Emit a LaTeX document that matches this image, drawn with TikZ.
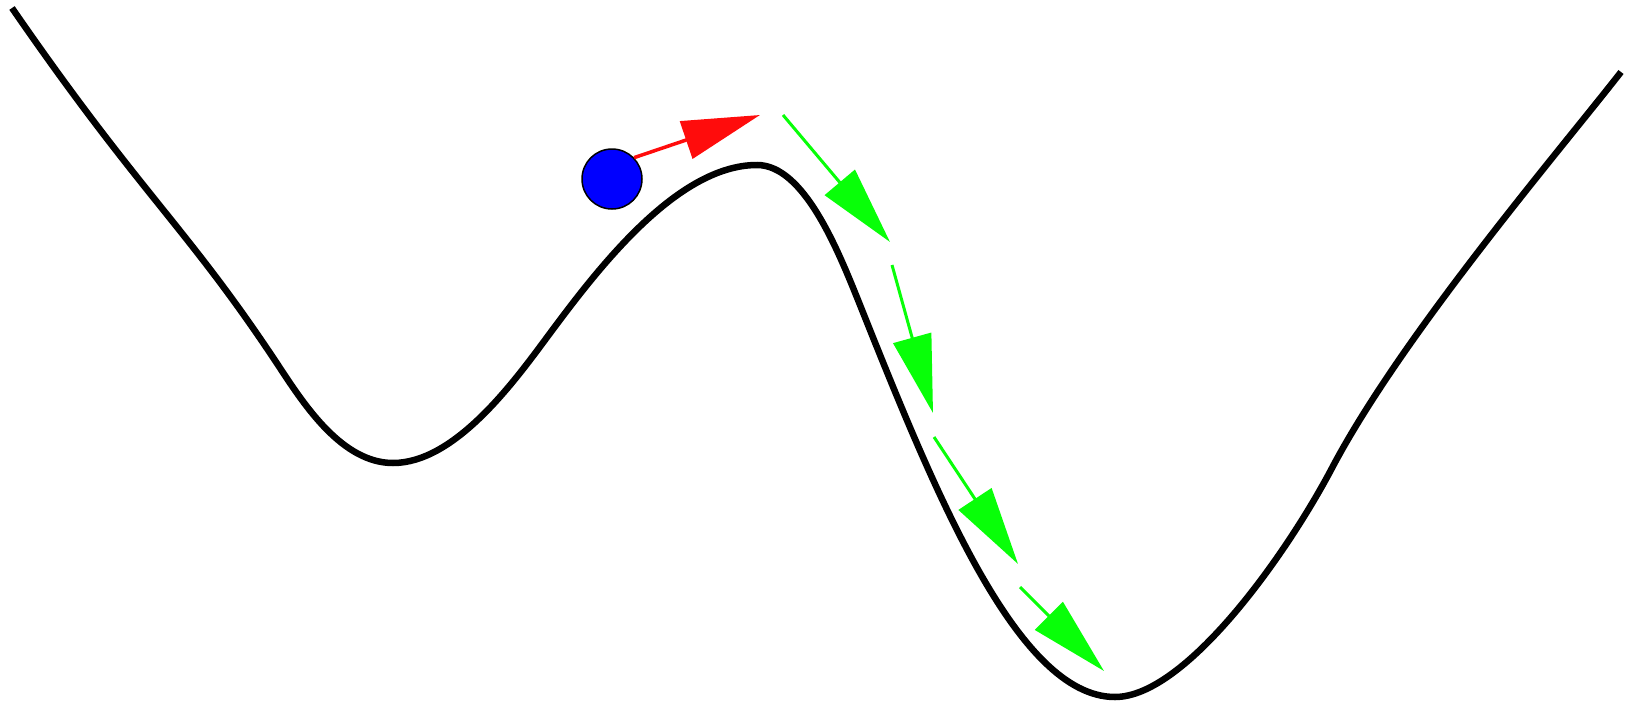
\documentclass[tikz,border=0pt]{standalone}
\usetikzlibrary{arrows.meta}
\definecolor{rarrow}{RGB}{255,12,12}
\definecolor{garrow}{RGB}{8,255,8}
\definecolor{ballblue}{RGB}{0,0,255}
\tikzset{
  curve/.style={line width=6.5pt, black},
  ballstyle/.style={circle, draw=black, line width=1.5pt, fill=ballblue, minimum size=60pt, inner sep=0pt},
  redarrow/.style={draw=rarrow, line width=3.5pt, -{Triangle[length=78pt,width=39pt]}, rarrow},
  greenarrow/.style={draw=garrow, line width=3pt, -{Triangle[length=78pt,width=39pt]}, garrow}
}
\begin{document}
\begin{tikzpicture}[x=1pt,y=-1pt]
\useasboundingbox (0,0) rectangle (1631,704);
\draw[curve] (12,8)
  .. controls (142.6,197.3) and (186.5,226) .. (280,368)
  .. controls (305,406) and (342.6,463) .. (393,463)
  .. controls (454,463) and (512,384.5) .. (545,340)
  .. controls (593,275.2) and (674.6,165) .. (757,165)
  .. controls (804,165) and (838,250) .. (860,305)
  .. controls (934,490) and (1017,697) .. (1115,697)
  .. controls (1185,697) and (1285.4,556.5) .. (1332,468)
  .. controls (1402,335.25) and (1559.5,150.9) .. (1621,72);
\node[ballstyle] (ball) at (612,179) {};
\coordinate (rtip) at (760,115);
\coordinate (g1s) at (783,115);
\coordinate (g1t) at (890,242);
\coordinate (g2s) at (892,265);
\coordinate (g2t) at (933,413);
\coordinate (g3s) at (934,437);
\coordinate (g3t) at (1018,564);
\coordinate (g4s) at (1020,587);
\coordinate (g4t) at (1104,671);
\draw[redarrow] (ball.44) -- (rtip);
\draw[greenarrow] (g1s) -- (g1t);
\draw[greenarrow] (g2s) -- (g2t);
\draw[greenarrow] (g3s) -- (g3t);
\draw[greenarrow] (g4s) -- (g4t);
\end{tikzpicture}
\end{document}
